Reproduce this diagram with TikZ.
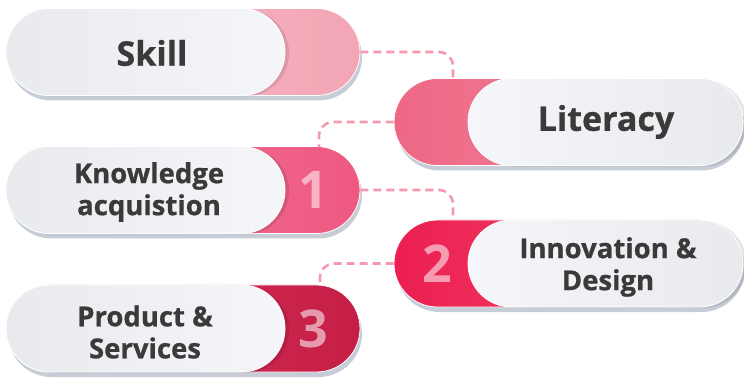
\documentclass[tikz,border=0pt]{standalone}
\usepackage{fontspec}
\setmainfont{Open Sans}
\newfontfamily\heavyfont{Open Sans}[BoldFeatures={FakeBold=0.7}]
\usetikzlibrary{shapes.misc,shadows}

\definecolor{txtgray}{HTML}{3A3A3A}
\definecolor{shadowgray}{HTML}{C6CDD6}
\definecolor{linkpink}{HTML}{F59AAE}
\definecolor{paleA}{HTML}{E8EAEE}
\definecolor{paleB}{HTML}{F5F6F9}

\tikzset{
  pill/.style={rounded rectangle, minimum height=87pt, inner sep=0pt,
    draw=white, line width=0.8pt},
  colpill/.style={pill, drop shadow={shadow xshift=2pt, shadow yshift=-5pt,
    fill=shadowgray, opacity=1}},
  whitepill/.style={pill, drop shadow={shadow xshift=4pt, shadow yshift=-1pt,
    fill=black, opacity=0.10}},
  leftwhite/.style={whitepill, minimum width=279pt, left color=paleA, right color=paleB},
  rightwhite/.style={whitepill, minimum width=275pt, left color=paleB, right color=paleA},
  pilltext/.style={font=\heavyfont\bfseries\fontsize{34}{40}\selectfont, text=txtgray},
  pilltwo/.style={font=\heavyfont\bfseries\fontsize{27.5}{32}\selectfont, text=txtgray, align=center},
  numtext/.style={font=\bfseries\fontsize{52}{58}\selectfont, text=white, text opacity=0.55},
  link/.style={draw=linkpink, line width=2.6pt, dash pattern=on 8pt off 5pt, rounded corners=14pt}
}

\begin{document}
\begin{tikzpicture}[x=1pt,y=-1pt]
\useasboundingbox (0,0) rectangle (744,379);

% where the links come in
\coordinate (litin) at (453,78);
\coordinate (knowin) at (319,147);
\coordinate (innoin) at (453,220);
\coordinate (prodin) at (320,285);

% coloured pills
\node[colpill, minimum width=354pt, left color={rgb,255:red,247;green,190;blue,200},
  right color={rgb,255:red,243;green,165;blue,180}] (skillcol) at (183,52) {};
\node[colpill, minimum width=349pt, left color={rgb,255:red,238;green,104;blue,134},
  right color={rgb,255:red,243;green,142;blue,161}] (litcol) at (568.5,122) {};
\node[colpill, minimum width=354pt, left color={rgb,255:red,242;green,126;blue,151},
  right color={rgb,255:red,238;green,88;blue,130}] (knowcol) at (183,190) {};
\node[colpill, minimum width=349pt, left color={rgb,255:red,236;green,30;blue,82},
  right color={rgb,255:red,241;green,84;blue,111}] (innocol) at (568.5,263.5) {};
\node[colpill, minimum width=354pt, left color={rgb,255:red,216;green,49;blue,90},
  right color={rgb,255:red,197;green,31;blue,72}] (prodcol) at (183,328.5) {};

% links
\draw[link] (skillcol.east) -| (litin);
\draw[link] (litcol.west) -| (knowin);
\draw[link] (knowcol.east) -| (innoin);
\draw[link] (innocol.west) -| (prodin);

% white pills
\node[leftwhite] (skillw) at (145.5,52) {};
\node[rightwhite] (litw) at (605.5,122) {};
\node[leftwhite] (knoww) at (145.5,190) {};
\node[rightwhite] (innow) at (605.5,263.5) {};
\node[leftwhite] (prodw) at (145.5,328.5) {};

% texts
\node[pilltext] (skilltxt) at (152,53) {Skill};
\node[pilltext] (littxt) at (606,122) {Literacy};
\node[pilltwo] (knowtxt) at (149,192) {Knowledge\\acquistion};
\node[pilltwo] (innotxt) at (608,267) {Innovation \&\\Design};
\node[pilltwo] (prodtxt) at (145,332) {Product \&\\Services};

% numbers
\node[numtext] (num1) at (313,190) {1};
\node[numtext] (num2) at (437,264) {2};
\node[numtext] (num3) at (313,329) {3};

\end{tikzpicture}
\end{document}
